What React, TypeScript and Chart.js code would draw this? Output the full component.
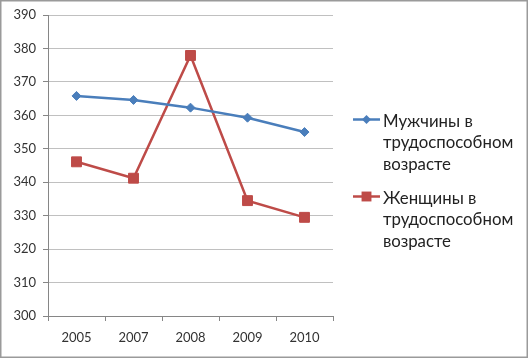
import React, { useEffect, useRef } from 'react';
import { Chart, registerables } from 'chart.js';

Chart.register(...registerables);

const years = ['2005', '2007', '2008', '2009', '2010'];
const menValues = [365.8, 364.6, 362.3, 359.3, 355.0];
const womenValues = [346.1, 341.2, 377.9, 334.5, 329.5];
const yMin = 300;
const yMax = 390;
const yStep = 10;
const menLegend = ['Мужчины в', 'трудоспособном', 'возрасте'];
const womenLegend = ['Женщины в', 'трудоспособном', 'возрасте'];

const FONT = 'Lato, "Open Sans", sans-serif';

const frameAndLegend = {
  id: 'frameAndLegend',
  afterDraw(chart: any) {
    const ctx = chart.ctx as CanvasRenderingContext2D;
    const w = chart.width;
    const h = chart.height;
    ctx.save();
    ctx.strokeStyle = '#9a9a9a';
    ctx.lineWidth = 1.5;
    ctx.strokeRect(0.75, 0.75, w - 2.5, h - 2.5);

    const legends = [menLegend, womenLegend];
    const startY = [119.5, 196.5];
    const lineX0 = 353;
    const lineX1 = 380;
    const textX = 383;
    const lh = 21.7;
    chart.data.datasets.forEach((ds: any, i: number) => {
      const y = startY[i];
      ctx.strokeStyle = ds.borderColor;
      ctx.lineWidth = ds.borderWidth;
      ctx.beginPath();
      ctx.moveTo(lineX0, y);
      ctx.lineTo(lineX1, y);
      ctx.stroke();
      const cx = (lineX0 + lineX1) / 2;
      ctx.fillStyle = ds.pointBackgroundColor;
      ctx.beginPath();
      if (ds.pointStyle === 'rectRot') {
        const r = ds.pointRadius;
        ctx.moveTo(cx, y - r);
        ctx.lineTo(cx + r, y);
        ctx.lineTo(cx, y + r);
        ctx.lineTo(cx - r, y);
        ctx.closePath();
      } else {
        const s = ds.pointRadius * Math.SQRT1_2;
        ctx.rect(cx - s, y - s, 2 * s, 2 * s);
      }
      ctx.fill();
      ctx.fillStyle = '#222222';
      ctx.font = '16.8px ' + FONT;
      ctx.textBaseline = 'alphabetic';
      ctx.textAlign = 'left';
      legends[i].forEach((t, k) => {
        ctx.fillText(t, textX, y + 7 + k * lh);
      });
    });
    ctx.restore();
  },
};

export default function App() {
  const ref = useRef<HTMLCanvasElement | null>(null);
  useEffect(() => {
    if (!ref.current) return;
    const chart = new Chart(ref.current, {
      type: 'line',
      data: {
        labels: years,
        datasets: [
          {
            label: menLegend.join(' '),
            data: menValues,
            borderColor: '#4A7EBB',
            backgroundColor: '#4A7EBB',
            pointBackgroundColor: '#4A7EBB',
            pointBorderColor: '#4A7EBB',
            borderWidth: 2.5,
            pointStyle: 'rectRot',
            pointRadius: 4.5,
            pointBorderWidth: 1,
            tension: 0,
          },
          {
            label: womenLegend.join(' '),
            data: womenValues,
            borderColor: '#BE4B48',
            backgroundColor: '#BE4B48',
            pointBackgroundColor: '#BE4B48',
            pointBorderColor: '#BE4B48',
            borderWidth: 2.5,
            pointStyle: 'rect',
            pointRadius: 7,
            pointBorderWidth: 1,
            tension: 0,
          },
        ],
      },
      options: {
        responsive: false,
        animation: false,
        layout: { padding: { top: 15, right: 196, left: 0, bottom: 0 } },
        plugins: {
          legend: { display: false },
          tooltip: { enabled: false },
        },
        scales: {
          x: {
            offset: true,
            grid: {
              offset: true,
              drawOnChartArea: false,
              tickLength: 5,
              tickColor: '#868686',
            },
            border: { color: '#868686', width: 1 },
            ticks: {
              color: '#333333',
              font: { family: FONT, size: 13 },
              padding: 9,
              maxRotation: 0,
            },
            afterFit(scale: any) {
              scale.height = 43;
            },
          },
          y: {
            min: yMin,
            max: yMax,
            ticks: {
              stepSize: yStep,
              color: '#333333',
              font: { family: FONT, size: 13 },
              padding: 7,
            },
            grid: {
              color: '#c0c0c0',
              tickLength: 5,
              tickColor: '#868686',
            },
            border: { color: '#868686', width: 1 },
            afterFit(scale: any) {
              scale.width = 48;
            },
          },
        },
      },
      plugins: [frameAndLegend],
    });
    return () => chart.destroy();
  }, []);
  return (
    <div style={{ position: 'fixed', left: 0, top: 0, width: 529, height: 359, background: '#fff' }}>
      <canvas ref={ref} width={529} height={359} style={{ display: 'block' }} />
    </div>
  );
}
